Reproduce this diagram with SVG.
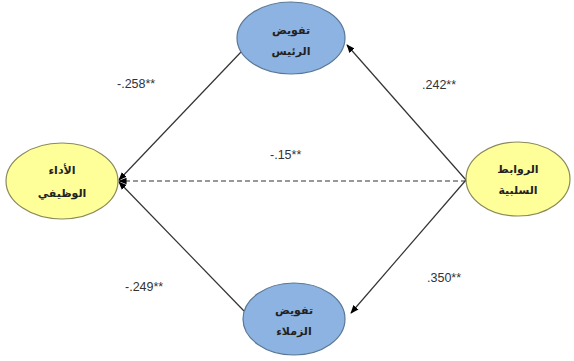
<svg xmlns="http://www.w3.org/2000/svg" width="574" height="361" viewBox="0 0 574 361">
<style>
.blue{fill:#8db3e2;stroke:#5a7896;stroke-width:1.2}
.yel{fill:#ffff99;stroke:#8a8a5a;stroke-width:1.2}
.lbl{font-family:"Noto Sans","DejaVu Sans",sans-serif;font-size:11px;font-weight:bold;fill:#222;text-anchor:middle}
.num{font-family:"Liberation Sans",Arial,sans-serif;font-size:12.5px;fill:#333}
.ln{stroke:#333;stroke-width:1.2;fill:none}
</style>
<defs>
<marker id="ah" viewBox="0 0 10 10" refX="9" refY="5" markerWidth="7" markerHeight="7" orient="auto">
<path d="M0,1 L10,5 L0,9 Z" fill="#000"/>
</marker>
</defs>
<rect width="574" height="361" fill="#fff"/>
<g id="connectors">
<line class="ln" x1="466" y1="180" x2="347" y2="45" marker-end="url(#ah)"/>
<line class="ln" x1="466" y1="180" x2="351" y2="313" marker-end="url(#ah)"/>
<line class="ln" x1="241" y1="52" x2="119" y2="180" marker-end="url(#ah)"/>
<line class="ln" x1="244" y1="311" x2="119" y2="182" marker-end="url(#ah)"/>
<line class="ln" x1="466" y1="181" x2="119" y2="181" stroke-dasharray="5,3" stroke-width="1.5" marker-end="url(#ah)"/>
</g>
<g id="node-top">
<ellipse class="blue" cx="291" cy="38" rx="54" ry="36"/>
<text class="lbl" x="291" y="34">تفويض</text>
<text class="lbl" x="291" y="55">الرئيس</text>
</g>
<g id="node-bottom">
<ellipse class="blue" cx="294" cy="319" rx="51" ry="36"/>
<text class="lbl" x="294" y="314">تفويض</text>
<text class="lbl" x="294" y="335">الزملاء</text>
</g>
<g id="node-left">
<ellipse class="yel" cx="62" cy="181" rx="56" ry="38"/>
<text class="lbl" x="62" y="174">الأداء</text>
<text class="lbl" x="62" y="197">الوظيفي</text>
</g>
<g id="node-right">
<ellipse class="yel" cx="518" cy="179" rx="52" ry="37"/>
<text class="lbl" x="518" y="173">الروابط</text>
<text class="lbl" x="518" y="194">السلبية</text>
</g>
<g id="labels">
<text class="num" x="117" y="88">-.258**</text>
<text class="num" x="422" y="89">.242**</text>
<text class="num" x="270" y="159">-.15**</text>
<text class="num" x="125" y="291">-.249**</text>
<text class="num" x="427" y="282">.350**</text>
</g>
</svg>
